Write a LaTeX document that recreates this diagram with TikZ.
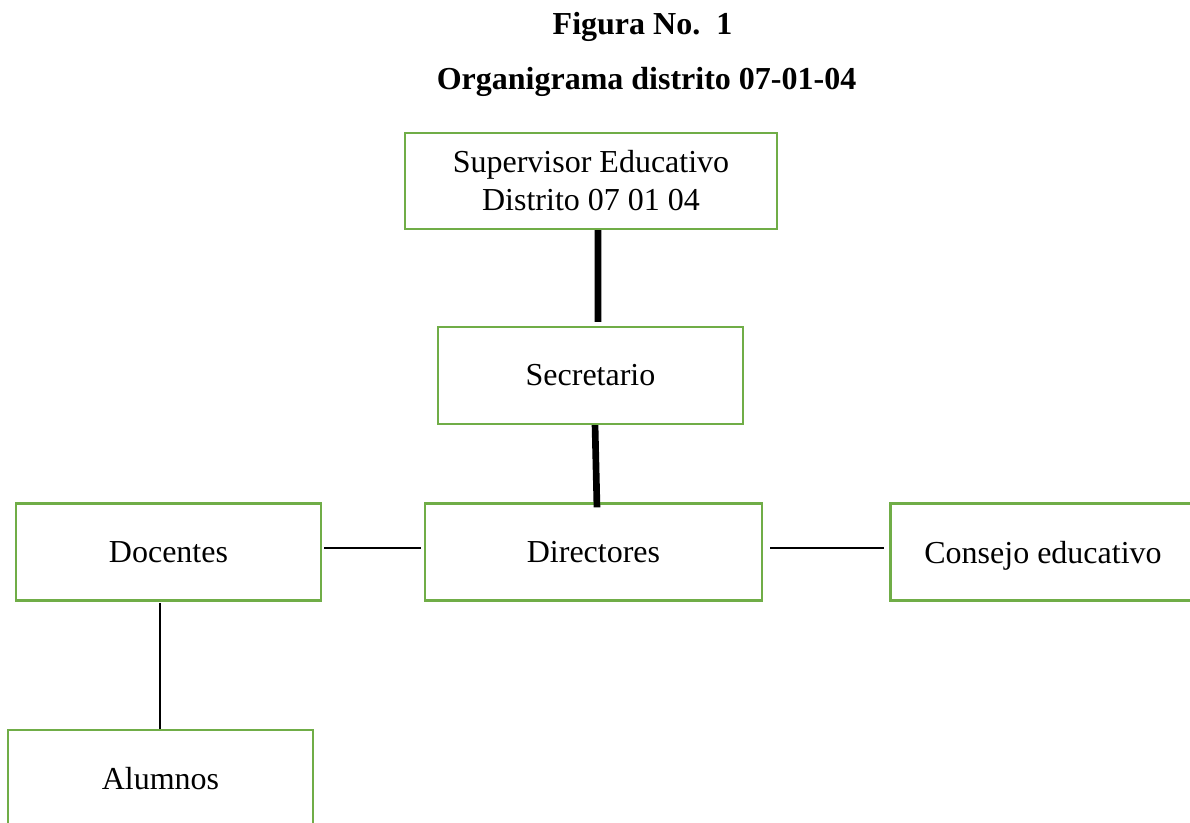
\documentclass[tikz,border=0pt]{standalone}
\usepackage{fontspec}
\setmainfont{Liberation Serif}
\usepackage{tikz}
\usetikzlibrary{positioning}
\definecolor{boxgreen}{RGB}{112,173,71}

\begin{document}
\begin{tikzpicture}[x=0.75pt,y=-0.75pt]
\tikzstyle{title}=[font=\fontsize{24}{29}\selectfont\bfseries, inner sep=0pt]
\tikzstyle{unit}=[rectangle, line width=1.7pt, draw=boxgreen, fill=white, inner sep=0pt, minimum width=228.75pt, minimum height=72.75pt, align=center, font=\fontsize{24}{28.5}\selectfont]
\tikzstyle{main}=[line width=5pt]
\tikzstyle{link}=[line width=0.9pt]
\useasboundingbox (0,0) rectangle (1190,823);

	\node[title] (fig) at (642.5,27) {Figura No.\ \ 1};
	\node[title] (org) at (646.5,82) {Organigrama distrito 07-01-04};

	\node[unit, minimum width=279pt, minimum height=72pt] (sup) at (591,181) {Supervisor Educativo\\Distrito 07 01 04};
	\node[unit] (sec) at (590.5,375.5) {Secretario};
	\node[unit, minimum width=252.75pt] (dir) at (593.5,552) {Directores};
	\node[unit] (doc) at (168.5,552) {Docentes};
	\node[unit, text depth=0pt] (con) at (1043,552) {Consejo educativo};
	\node[unit] (alu) at (160.5,778.5) {Alumnos};

%	thick line down the middle, thin lines to the sides
	\path
		([xshift=5.25pt]sup.south) edge [main] ([xshift=5.6pt,yshift=3pt]sec.north)
		([xshift=3.4pt]sec.south) edge [main] ([xshift=2.6pt,yshift=-3.75pt]dir.north)
		([xshift=1.5pt,yshift=3pt]doc.east) edge [link] ([xshift=-2.25pt,yshift=3pt]dir.west)
		([xshift=5.25pt,yshift=3pt]dir.east) edge [link] ([xshift=-3.75pt,yshift=3pt]con.west)
		([xshift=-6.4pt,yshift=-1pt]doc.south) edge [link] ([xshift=-0.4pt]alu.north);

\end{tikzpicture}
\end{document}
